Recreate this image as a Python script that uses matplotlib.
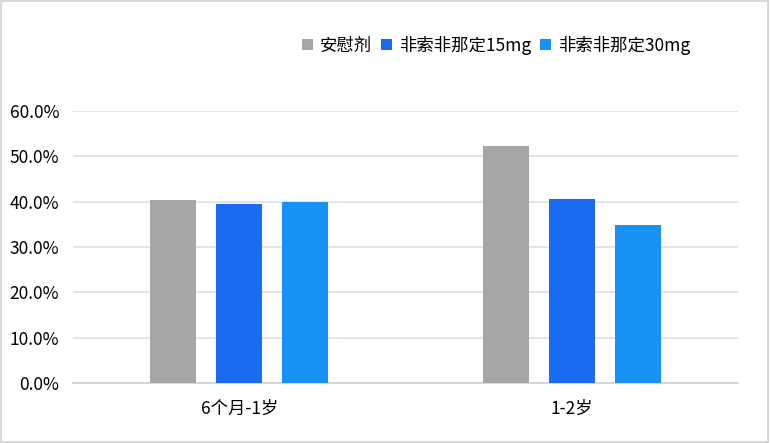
import matplotlib
matplotlib.use("Agg")
import matplotlib.pyplot as plt
import numpy as np
from matplotlib.ticker import FuncFormatter, MultipleLocator

plt.rcParams['font.family'] = ['Noto Sans CJK SC', 'DejaVu Sans']

categories = ['6个月-1岁', '1-2岁']
series_names = ['安慰剂', '非索非那定15mg', '非索非那定30mg']
placebo = [40.4, 52.3]
fex15 = [39.5, 40.6]
fex30 = [40.0, 34.9]
colors = ['#A6A6A6', '#1A6BF2', '#1793F8']

fig = plt.figure(figsize=(7.7, 4.43), dpi=100)
ax = fig.add_axes([73/770, 1-383/443, (738-73)/770, (383-111)/443])

x = np.arange(len(categories))
w = 0.138
step = 0.198
for i, (vals, name, c) in enumerate(zip([placebo, fex15, fex30], series_names, colors)):
    ax.bar(x + (i-1)*step, vals, width=w, color=c, label=name, zorder=3)

ax.set_xlim(-0.5, 1.5)
ax.set_ylim(0, 60)
ax.yaxis.set_major_locator(MultipleLocator(10))
ax.yaxis.set_major_formatter(FuncFormatter(lambda v, p: f'{v:.1f}%'))
ax.grid(axis='y', color='#E0E0E0', linewidth=1.2, zorder=0)
ax.set_xticks(x)
ax.set_xticklabels(categories)
ax.tick_params(axis='both', length=0, labelsize=12.5, colors='black')
ax.tick_params(axis='x', pad=12)
ax.tick_params(axis='y', pad=10)
for s in ['top', 'right', 'left']:
    ax.spines[s].set_visible(False)
ax.spines['bottom'].set_color('#D0D0D0')
ax.spines['bottom'].set_linewidth(1.2)

leg = fig.legend(loc='center', bbox_to_anchor=(496/770, 1-45/443), ncol=3, frameon=False,
                 fontsize=12.5, handlelength=0.65, handleheight=0.65, handletextpad=0.4,
                 columnspacing=0.5)

fig.patches.append(plt.Rectangle((0.001, 0.002), 0.997, 0.996, transform=fig.transFigure,
                                 fill=False, edgecolor='#D9D9D9', linewidth=1.5))
fig.savefig('out.png', dpi=100)
